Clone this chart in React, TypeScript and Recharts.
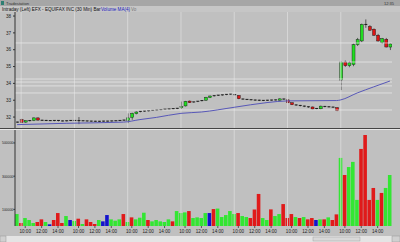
import React from 'react';
import { BarChart, Bar, Cell, ComposedChart, Line, ReferenceLine, XAxis, YAxis } from 'recharts';

const HALF_HOURS = ['9:30', '10:00', '10:30', '11:00', '11:30', '12:00', '12:30', '13:00', '13:30', '14:00', '14:30', '15:00', '15:30'];
const SESSIONS = ['8/30', '8/31', '9/01', '9/05', '9/06', '9/07', '9/08'];
const PRIOR_BAR = '8/29 15:30';
const TIME_LABELS = ['10:00', '12:00', '14:00'];

// 30 min bars, [open, high, low, close]
const OHLC = [
  [31.70, 31.73, 31.66, 31.70],
  [31.86, 31.90, 31.64, 31.68], [31.70, 31.80, 31.66, 31.78], [31.78, 31.82, 31.74, 31.79], [31.80, 31.98, 31.76, 31.95],
  [31.95, 31.98, 31.78, 31.82], [31.81, 31.84, 31.77, 31.80], [31.80, 31.83, 31.76, 31.79], [31.79, 31.81, 31.76, 31.78],
  [31.78, 31.82, 31.75, 31.80], [31.80, 31.82, 31.74, 31.77], [31.77, 31.80, 31.74, 31.76], [31.76, 31.80, 31.74, 31.78],
  [31.78, 31.82, 31.76, 31.80],
  [31.80, 31.82, 31.76, 31.78], [31.79, 32.00, 31.58, 31.78], [31.78, 31.81, 31.75, 31.77], [31.77, 31.79, 31.73, 31.76],
  [31.76, 31.78, 31.72, 31.75], [31.75, 31.78, 31.72, 31.74], [31.74, 31.77, 31.71, 31.75], [31.75, 31.78, 31.72, 31.76],
  [31.76, 31.78, 31.73, 31.75], [31.75, 31.79, 31.73, 31.77], [31.77, 31.80, 31.75, 31.78], [31.78, 31.82, 31.76, 31.80],
  [31.80, 31.84, 31.77, 31.82],
  [31.80, 32.22, 31.64, 31.95], [31.98, 32.26, 31.84, 32.22], [32.20, 32.34, 32.16, 32.30], [32.32, 32.36, 32.28, 32.34],
  [32.35, 32.38, 32.31, 32.36], [32.37, 32.40, 32.33, 32.38], [32.39, 32.42, 32.36, 32.40], [32.41, 32.44, 32.38, 32.42],
  [32.43, 32.46, 32.40, 32.44], [32.45, 32.48, 32.42, 32.47], [32.47, 32.50, 32.44, 32.48], [32.49, 32.52, 32.46, 32.50],
  [32.50, 32.54, 32.47, 32.52],
  [32.55, 32.92, 32.48, 32.62], [32.66, 32.96, 32.63, 32.93], [32.95, 32.98, 32.84, 32.86], [32.88, 32.91, 32.85, 32.90],
  [32.92, 32.95, 32.89, 32.94], [32.96, 33.00, 32.93, 32.98], [33.00, 33.20, 32.97, 33.17], [33.16, 33.28, 33.13, 33.25],
  [33.26, 33.29, 33.22, 33.27], [33.28, 33.31, 33.25, 33.30], [33.30, 33.33, 33.27, 33.32], [33.33, 33.36, 33.30, 33.35],
  [33.35, 33.39, 33.32, 33.37],
  [33.33, 33.36, 33.29, 33.31], [33.28, 33.31, 33.06, 33.09], [33.07, 33.10, 33.03, 33.05], [33.05, 33.07, 33.01, 33.03],
  [33.03, 33.05, 32.99, 33.01], [33.01, 33.04, 32.97, 33.00], [33.00, 33.03, 32.95, 32.98], [32.98, 33.01, 32.95, 32.99],
  [32.99, 33.02, 32.96, 33.00], [33.00, 33.03, 32.97, 33.01], [33.01, 33.04, 32.98, 33.02], [33.00, 33.11, 32.98, 33.08],
  [33.07, 33.10, 33.03, 33.05],
  [33.02, 33.04, 32.83, 32.85], [32.85, 32.87, 32.71, 32.73], [32.72, 32.75, 32.67, 32.70], [32.69, 32.72, 32.63, 32.66],
  [32.65, 32.68, 32.59, 32.62], [32.61, 32.64, 32.55, 32.58], [32.60, 32.62, 32.46, 32.48], [32.50, 32.53, 32.46, 32.51],
  [32.49, 32.68, 32.46, 32.65], [32.63, 32.66, 32.58, 32.61], [32.61, 32.64, 32.57, 32.60], [32.59, 32.62, 32.55, 32.58],
  [32.56, 32.58, 32.35, 32.38],
  [34.20, 35.30, 33.60, 35.27], [35.27, 35.36, 34.98, 35.05], [35.05, 35.30, 34.96, 35.22], [35.12, 36.36, 35.02, 36.30],
  [36.30, 36.70, 36.22, 36.60], [36.52, 37.55, 36.45, 37.50], [37.50, 37.80, 37.30, 37.46], [37.38, 37.46, 37.12, 37.16],
  [37.22, 37.26, 36.82, 36.86], [36.86, 36.94, 36.48, 36.52], [36.42, 36.70, 36.36, 36.66], [36.62, 36.70, 36.14, 36.16],
  [36.16, 36.38, 35.98, 36.34],
];

// moving average, read at a few bars only
const MA_POINTS: [number, number][] = [
  [0, 31.55], [12, 31.63], [26, 31.70], [30, 31.85], [34, 31.98], [40, 32.22], [45, 32.30], [53, 32.58],
  [61, 32.86], [66, 32.96], [78, 32.98], [79, 33.02], [83, 33.43], [87, 33.79], [91, 34.14],
];

const VOLUME = [
  72000,
  18000, 48000, 36000, 18000, 24000, 40000, 24000, 10000, 36000, 78000, 18000, 60000, 36000,
  30000, 44000, 12000, 40000, 24000, 12000, 36000, 28000, 66000, 40000, 32000, 40000, 72000,
  24000, 52000, 40000, 50000, 80000, 36000, 28000, 36000, 28000, 24000, 40000, 28000, 90000,
  78000, 82000, 90000, 48000, 52000, 48000, 78000, 78000, 102000, 105000, 54000, 66000, 90000,
  72000, 78000, 60000, 54000, 48000, 100000, 193000, 48000, 36000, 100000, 60000, 72000, 132000,
  48000, 72000, 54000, 48000, 54000, 40000, 48000, 36000, 40000, 40000, 52000, 36000, 70000,
  410000, 307000, 355000, 386000, 157000, 464000, 548000, 157000, 229000, 157000, 199000, 229000, 307000,
];
const VOL_COLOR = (
  'g' +
  'rgggrrgbrrrgb' +
  'grgrrrgbbgggr' +
  'grgggrgggggr' + 'g' +
  'ggrggggbrggg' + 'g' +
  'grggrrrggrggr' +
  'rrgrgrrbgrgrr' +
  'grgggrrrrgrg' + 'g'
).split('');

const PRICE_TICKS = [32, 33, 34, 35, 36, 37, 38];
const VOL_TICKS = [0, 100000, 200000, 300000, 400000, 500000];
const LEVELS = [36.40, 35.27, 34.26, 34.08, 33.85, 33.43, 32.42];

const KEYS = [PRIOR_BAR, ...SESSIONS.flatMap((d) => HALF_HOURS.map((t) => `${d} ${t}`))];
const DAY_KEYS = SESSIONS.map((d) => `${d} 9:30`);
const TIME_KEYS = SESSIONS.flatMap((d) => TIME_LABELS.map((t) => `${d} ${t}`));
const maMap = new Map(MA_POINTS);

const rows = KEYS.map((key, i) => {
  const [o, h, l, c] = OHLC[i];
  return { key, o, h, l, c, range: [l, h], ma: maMap.has(i) ? maMap.get(i) : null, v: VOLUME[i], vc: VOL_COLOR[i] };
});

const GREEN = '#22dd22';
const RED = '#dd1515';
const VOL_FILL: Record<string, string> = { g: '#33e633', r: '#e01a1a', b: '#1414cc' };
const BG = '#c0c0c0';
const GRID = '#dcdcdc';
const FONT = 'Liberation Sans, Arial, sans-serif';

function Candle(props: any) {
  const { x, y, width, height, payload } = props;
  const top0 = Math.min(y, y + height);
  const hh = Math.abs(height);
  const span = payload.h - payload.l;
  const k = span > 0 ? hh / span : 0;
  const py = (p: number) => top0 + (payload.h - p) * k;
  const cx = x + width / 2;
  const bt = py(Math.max(payload.o, payload.c));
  const bb = py(Math.min(payload.o, payload.c));
  const flat = bb - bt < 0.9;
  return (
    <g>
      <line x1={cx} x2={cx} y1={top0} y2={top0 + hh} stroke="#111" strokeWidth={0.6} />
      {flat ? (
        <line x1={x} x2={x + width} y1={bt} y2={bt} stroke="#111" strokeWidth={0.9} />
      ) : (
        <rect x={x} y={bt} width={width} height={bb - bt} fill={payload.c >= payload.o ? GREEN : RED} stroke="#111" strokeWidth={0.4} />
      )}
    </g>
  );
}

function DateTick(props: any) {
  const { x, y, payload } = props;
  return (
    <text x={x + 4} y={y + 4.5} fontSize={4.6} fill="#222" fontFamily={FONT}>
      {String(payload.value).split(' ')[0]}
    </text>
  );
}

function VolTick(props: any) {
  const { y, payload } = props;
  const label = String(payload.value);
  return (
    <text
      x={13.5}
      y={y + 1.4}
      fontSize={3.9}
      fill="#222"
      fontFamily={FONT}
      textAnchor="end"
      textLength={label.length > 1 ? 11.5 : undefined}
      lengthAdjust="spacingAndGlyphs"
    >
      {label}
    </text>
  );
}

const axisTick = { fontSize: 4.6, fill: '#222', fontFamily: FONT };

export default function App() {
  return (
    <div style={{ position: 'fixed', left: 0, top: 0, width: 400, height: 242, background: BG, overflow: 'hidden', fontFamily: FONT }}>
      <svg width={400} height={242} style={{ position: 'absolute', left: 0, top: 0 }}>
        <rect x={0} y={0} width={400} height={6} fill="#a6a6a6" />
        <rect x={1} y={1} width={3} height={4} fill="#2f7f73" />
        <text x={6} y={4.8} fontSize={4.2} fill="#333" fontFamily={FONT}>Tradestation</text>
        <text x={384} y={4.8} fontSize={4} fill="#333" fontFamily={FONT}>12:35</text>
        <rect x={0} y={6} width={400} height={6} fill="#c6c6c6" />
        <text x={2} y={10.6} fontSize={4.6} fill="#111" fontFamily={FONT}>
          Intraday  (Left)    EFX - EQUIFAX INC  (30 Min)   Bar
        </text>
        <text x={101} y={10.6} fontSize={4.6} fill="#2020c0" fontFamily={FONT}>Volume  MA(4)</text>
        <text x={131} y={10.6} fontSize={4.6} fill="#777" fontFamily={FONT}>Vo</text>
        <rect x={0} y={236} width={400} height={6} fill="#e4e4e4" />
        <rect x={0} y={236} width={6} height={6} fill="#d0d0d0" stroke="#888" strokeWidth={0.4} />
        <rect x={313} y={237} width={47} height={4} fill="#d8d8d8" stroke="#999" strokeWidth={0.4} />
        <rect x={392} y={236} width={8} height={6} fill="#d0d0d0" stroke="#888" strokeWidth={0.4} />
      </svg>

      <div style={{ position: 'absolute', left: 0, top: 12 }}>
        <ComposedChart width={392} height={116} data={rows} margin={{ top: 0, right: 0, bottom: 0, left: 0 }}>
          <XAxis dataKey="key" orientation="top" height={0} axisLine={false} tickLine={false} ticks={DAY_KEYS} interval={0} tick={<DateTick />} />
          <YAxis
            width={15}
            domain={[31.35, 38.24]}
            ticks={PRICE_TICKS}
            allowDataOverflow
            tick={axisTick}
            tickSize={2}
            axisLine={{ stroke: '#333' }}
            tickLine={{ stroke: '#333' }}
          />
          {DAY_KEYS.map((k) => (
            <ReferenceLine key={k} x={k} stroke={GRID} strokeWidth={0.8} />
          ))}
          {LEVELS.map((p) => (
            <ReferenceLine key={p} y={p} stroke="#ececec" strokeWidth={0.7} />
          ))}
          <Line dataKey="ma" type="monotone" stroke="#5858b8" strokeWidth={1} dot={false} connectNulls isAnimationActive={false} />
          <Bar dataKey="range" barSize={3} shape={<Candle />} isAnimationActive={false} />
        </ComposedChart>
      </div>

      <div style={{ position: 'absolute', left: 0, top: 130 }}>
        <BarChart width={392} height={106} data={rows} margin={{ top: 0, right: 0, bottom: 0, left: 0 }}>
          <XAxis
            dataKey="key"
            height={10}
            ticks={TIME_KEYS}
            interval={0}
            tickFormatter={(v: string) => v.split(' ')[1]}
            tick={axisTick}
            tickSize={2}
            axisLine={false}
            tickLine={{ stroke: '#555' }}
          />
          <YAxis
            width={15}
            domain={[0, 578000]}
            ticks={VOL_TICKS}
            allowDataOverflow
            tick={<VolTick />}
            tickSize={1.5}
            axisLine={{ stroke: '#333' }}
            tickLine={{ stroke: '#333' }}
          />
          {DAY_KEYS.map((k) => (
            <ReferenceLine key={k} x={k} stroke={GRID} strokeWidth={0.8} />
          ))}
          <Bar dataKey="v" barSize={3.6} isAnimationActive={false}>
            {rows.map((r, i) => (
              <Cell key={i} fill={VOL_FILL[r.vc]} />
            ))}
          </Bar>
        </BarChart>
      </div>

      <svg width={400} height={242} style={{ position: 'absolute', left: 0, top: 0, pointerEvents: 'none' }}>
        <line x1={0} x2={400} y1={128.5} y2={128.5} stroke="#444" strokeWidth={1} />
        <line x1={0} x2={400} y1={129.5} y2={129.5} stroke="#e8e8e8" strokeWidth={1} />
      </svg>
    </div>
  );
}
